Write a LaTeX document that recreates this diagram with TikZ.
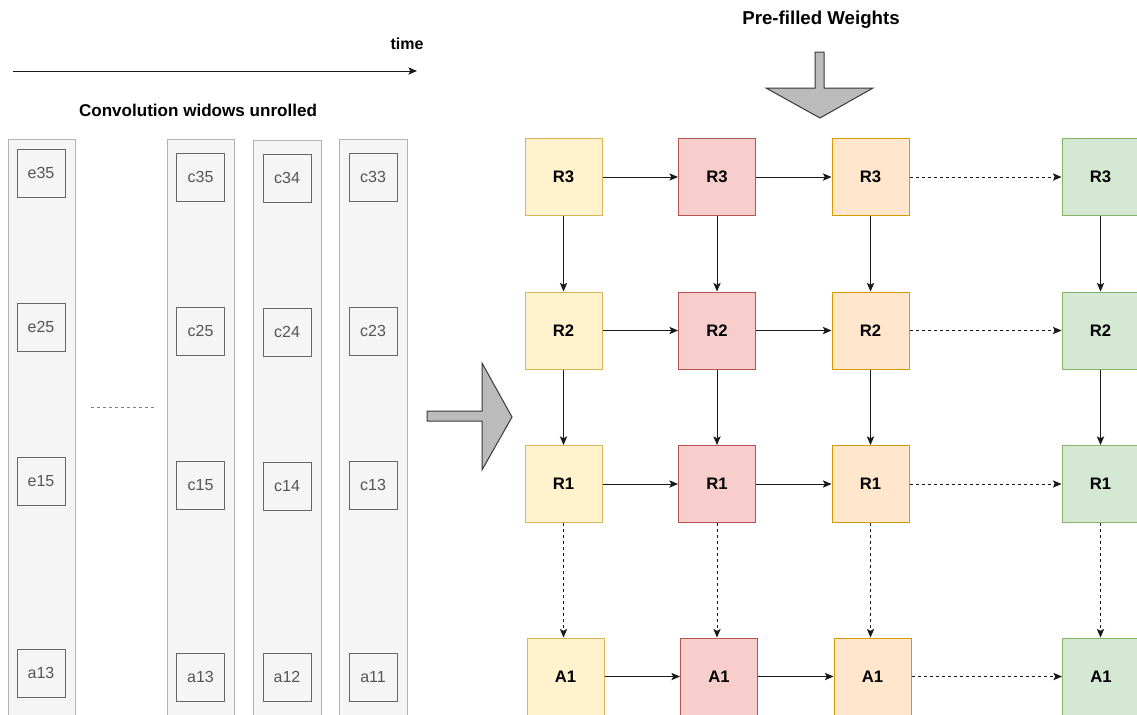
\documentclass[tikz,border=0pt]{standalone}
\usepackage{fontspec}
\setmainfont{Liberation Sans}
\usetikzlibrary{arrows.meta}
\definecolor{yfill}{HTML}{FFF2CC}\definecolor{ydraw}{HTML}{D6B656}
\definecolor{rfill}{HTML}{F8CECC}\definecolor{rdraw}{HTML}{B85450}
\definecolor{ofill}{HTML}{FFE6CC}\definecolor{odraw}{HTML}{D79B00}
\definecolor{gfill}{HTML}{D5E8D4}\definecolor{gdraw}{HTML}{82B366}
\definecolor{lgfill}{HTML}{F5F5F5}\definecolor{lgdraw}{HTML}{B3B3B3}
\definecolor{ingdraw}{HTML}{666666}\definecolor{intext}{HTML}{555555}
\definecolor{bigfill}{HTML}{BBBBBB}\definecolor{bigdraw}{HTML}{36393D}
\tikzset{
  lbl/.style={font=\fontsize{12}{14}\selectfont\bfseries, inner sep=0pt},
  cell/.style={draw, line width=0.75pt, minimum width=57.75pt, minimum height=57.75pt, inner sep=0pt, font=\fontsize{12.5}{14}\selectfont\bfseries},
  ycell/.style={cell, fill=yfill, draw=ydraw},
  rcell/.style={cell, fill=rfill, draw=rdraw},
  ocell/.style={cell, fill=ofill, draw=odraw},
  gcell/.style={cell, fill=gfill, draw=gdraw},
  colbox/.style={draw=lgdraw, fill=lgfill, line width=0.75pt},
  inbox/.style={draw=ingdraw, fill=lgfill, line width=0.75pt, minimum width=36pt, minimum height=36pt, inner sep=0pt, text=intext, font=\fontsize{12}{14}\selectfont},
  conn/.style={draw=black!90, line width=0.75pt, -{Stealth[length=6.5pt,width=5.5pt,inset=1.5pt]}},
  dconn/.style={conn, dash pattern=on 2.25pt off 2.25pt},
  bigarrow/.style={fill=bigfill, draw=bigdraw, line width=0.75pt, line join=miter}
}
\begin{document}
\begin{tikzpicture}[x=0.75pt,y=-0.75pt]
\clip (0,0) rectangle (1137,714);
\fill[white] (0,0) rectangle (1137,714);

% time arrow
\coordinate (t0) at (13,71);
\coordinate (t1) at (417,71);
\draw[conn] (t0) -- (t1);
\node[lbl] (time) at (407,44) {time};
\node[lbl, font=\fontsize{12.8}{14}\selectfont\bfseries] (convtitle) at (198,110) {Convolution widows unrolled};
\node[lbl, font=\fontsize{14}{16}\selectfont\bfseries] (prefill) at (821,20) {Pre-filled Weights};

% left columns
\draw[colbox] (8,139) rectangle (75,740);
\draw[colbox] (167,139) rectangle (234,740);
\draw[colbox] (253,140) rectangle (321,740);
\draw[colbox] (339,139) rectangle (407,740);

\node[inbox] (e35) at (41,173) {e35};
\node[inbox] (e25) at (41,327) {e25};
\node[inbox] (e15) at (41,481) {e15};
\node[inbox] (ea13) at (41,673) {a13};

\node[inbox] (c35) at (200.5,177) {c35};
\node[inbox] (c25) at (200.5,331) {c25};
\node[inbox] (c15) at (200.5,485) {c15};
\node[inbox] (ca13) at (200.5,677) {a13};

\node[inbox] (c34) at (287,178) {c34};
\node[inbox] (c24) at (287,332) {c24};
\node[inbox] (c14) at (287,486) {c14};
\node[inbox] (a12) at (287,677) {a12};

\node[inbox] (c33) at (373,177) {c33};
\node[inbox] (c23) at (373,331) {c23};
\node[inbox] (c13) at (373,485) {c13};
\node[inbox] (a11) at (373,677) {a11};

\coordinate (dl0) at (91,407);
\coordinate (dl1) at (157,407);
\draw[draw=black!50, line width=0.75pt, dash pattern=on 2.25pt off 2.25pt] (dl0) -- (dl1);

% big arrows
\draw[bigarrow] (427,411) -- (482,411) -- (482,363) -- (512,417) -- (482,470) -- (482,421) -- (427,421) -- cycle;
\draw[bigarrow] (815,52) -- (824,52) -- (824,88) -- (873,88) -- (820,118) -- (766,88) -- (815,88) -- cycle;

% grid
\foreach \r/\y/\t in {3/177/R3, 2/330.5/R2, 1/484/R1}{
  \node[ycell] (a\r) at (563.5,\y) {\t};
  \node[rcell] (b\r) at (717,\y) {\t};
  \node[ocell] (c\r) at (870.5,\y) {\t};
  \node[gcell] (d\r) at (1100.5,\y) {\t};
}
\node[ycell] (a0) at (565.5,676.5) {A1};
\node[rcell] (b0) at (719,676.5) {A1};
\node[ocell] (c0) at (872.5,676.5) {A1};
\node[gcell] (d0) at (1101,676.5) {A1};

\foreach \r in {3,2,1,0}{
  \draw[conn] (a\r) -- (b\r);
  \draw[conn] (b\r) -- (c\r);
  \draw[dconn] (c\r) -- (d\r);
}
\foreach \c in {a,b,c,d}{
  \draw[conn] (\c3) -- (\c2);
  \draw[conn] (\c2) -- (\c1);
  \draw[dconn] (\c1.south) -- (\c1.south |- \c0.north);
}
\end{tikzpicture}
\end{document}
